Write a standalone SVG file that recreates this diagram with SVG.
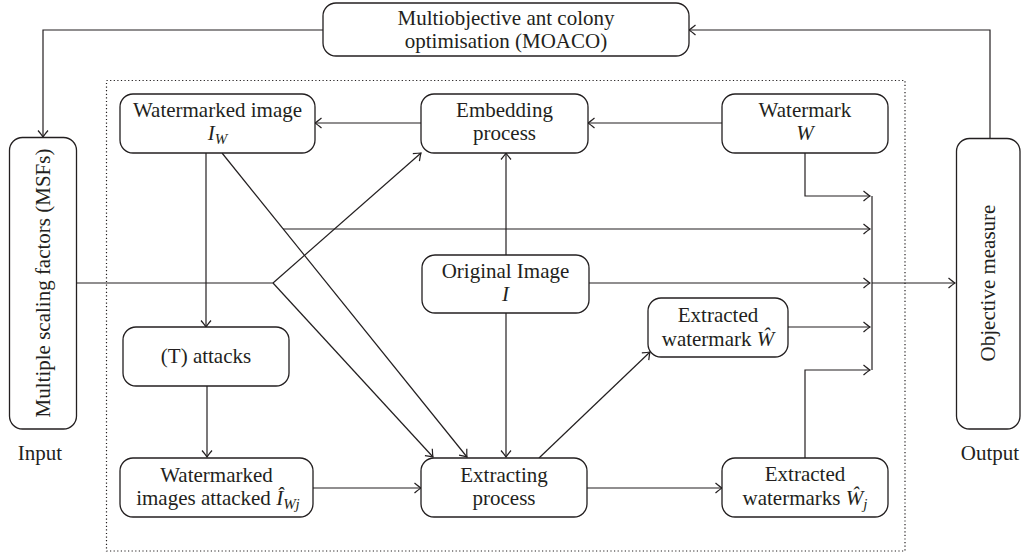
<svg xmlns="http://www.w3.org/2000/svg" width="1021" height="557" viewBox="0 0 1021 557">
<style>
.box{fill:#fff;stroke:#231f20;stroke-width:1.3}
text{font-family:'Liberation Serif','Times New Roman','DejaVu Serif',serif;font-size:21px;fill:#231f20;text-anchor:middle}
.i{font-style:italic}
.c{fill:none;stroke:#231f20;stroke-width:1.2}
.a{marker-end:url(#arr)}
</style>
<defs>
<marker id="arr" markerUnits="userSpaceOnUse" markerWidth="14" markerHeight="14" viewBox="-8 -7 10 14" refX="0" refY="0" orient="auto" overflow="visible">
<path d="M-6.5,-5 Q-2,-1.2 0,0 Q-2,1.2 -6.5,5" fill="none" stroke="#231f20" stroke-width="1.2"/>
</marker>
</defs>
<rect width="1021" height="557" fill="#fff"/>
<rect x="106.5" y="80.5" width="798.5" height="470.5" fill="none" stroke="#231f20" stroke-width="1.2" stroke-dasharray="1.2 2.4"/>
<g id="connectors">
<path class="c a" d="M323,30 H43 V137"/>
<path class="c a" d="M990,138 V30 H689"/>
<path class="c a" d="M722,123 H588"/>
<path class="c a" d="M421,123 H315"/>
<path class="c a" d="M805,153 V196 H870"/>
<path class="c" d="M872,196 V370"/>
<path class="c a" d="M283,229 H870"/>
<path class="c" d="M76,283 H273"/>
<path class="c a" d="M273,283 L421,153"/>
<path class="c a" d="M273,283 L433,457"/>
<path class="c a" d="M222,153 L467,457"/>
<path class="c a" d="M206,153 V327"/>
<path class="c a" d="M506,255 V153"/>
<path class="c a" d="M506,313 V457"/>
<path class="c a" d="M589,283 H870"/>
<path class="c a" d="M872,283 H955"/>
<path class="c a" d="M788,327 H870"/>
<path class="c a" d="M805,458 V370 H870"/>
<path class="c a" d="M539,458 L650,352"/>
<path class="c a" d="M207,386 V457"/>
<path class="c a" d="M313,488 H421"/>
<path class="c a" d="M587,488 H722"/>
</g>
<g id="moaco">
<rect class="box" x="323" y="3" width="366" height="53" rx="13"/>
<text x="506" y="25">Multiobjective ant colony</text>
<text x="506" y="48">optimisation (MOACO)</text>
</g>
<g id="msf">
<rect class="box" x="9.5" y="137.5" width="67" height="291.5" rx="13"/>
<text transform="translate(43,283) rotate(-90)" x="0" y="7">Multiple scaling factors (MSFs)</text>
</g>
<g id="input"><text x="40" y="460">Input</text></g>
<g id="objective">
<rect class="box" x="956.5" y="138.5" width="63.5" height="290.5" rx="13"/>
<text transform="translate(988,283) rotate(-90)" x="0" y="7">Objective measure</text>
</g>
<g id="output"><text x="990" y="460">Output</text></g>
<g id="watermarked-image">
<rect class="box" x="120" y="94" width="195" height="59" rx="13"/>
<text x="217.5" y="117">Watermarked image</text>
<text x="217.5" y="140"><tspan class="i">I</tspan><tspan class="i" font-size="15" dy="4">W</tspan></text>
</g>
<g id="embedding">
<rect class="box" x="421" y="94" width="167" height="59" rx="13"/>
<text x="504.5" y="117">Embedding</text>
<text x="504.5" y="140">process</text>
</g>
<g id="watermark">
<rect class="box" x="722" y="94" width="166" height="59" rx="13"/>
<text x="805" y="117">Watermark</text>
<text class="i" x="805" y="140">W</text>
</g>
<g id="original-image">
<rect class="box" x="422" y="255" width="167" height="58" rx="13"/>
<text x="505.5" y="278">Original Image</text>
<text class="i" x="505.5" y="301">I</text>
</g>
<g id="extracted-watermark">
<rect class="box" x="648" y="298" width="140" height="59" rx="13"/>
<text x="718" y="322">Extracted</text>
<text x="718" y="346">watermark <tspan class="i">Ŵ</tspan></text>
</g>
<g id="attacks">
<rect class="box" x="123" y="327" width="166" height="59" rx="13"/>
<text x="206" y="363">(T) attacks</text>
</g>
<g id="watermarked-attacked">
<rect class="box" x="120" y="458" width="193" height="59" rx="13"/>
<text x="216.5" y="482">Watermarked</text>
<text x="218" y="505">images attacked <tspan class="i">Î</tspan><tspan class="i" font-size="15" dy="4">Wj</tspan></text>
</g>
<g id="extracting">
<rect class="box" x="421" y="458" width="166" height="59" rx="13"/>
<text x="504" y="482">Extracting</text>
<text x="504" y="505">process</text>
</g>
<g id="extracted-watermarks">
<rect class="box" x="722" y="458" width="166" height="59" rx="13"/>
<text x="805" y="481">Extracted</text>
<text x="805" y="505">watermarks <tspan class="i">Ŵ</tspan><tspan class="i" font-size="15" dy="4">j</tspan></text>
</g>
</svg>
